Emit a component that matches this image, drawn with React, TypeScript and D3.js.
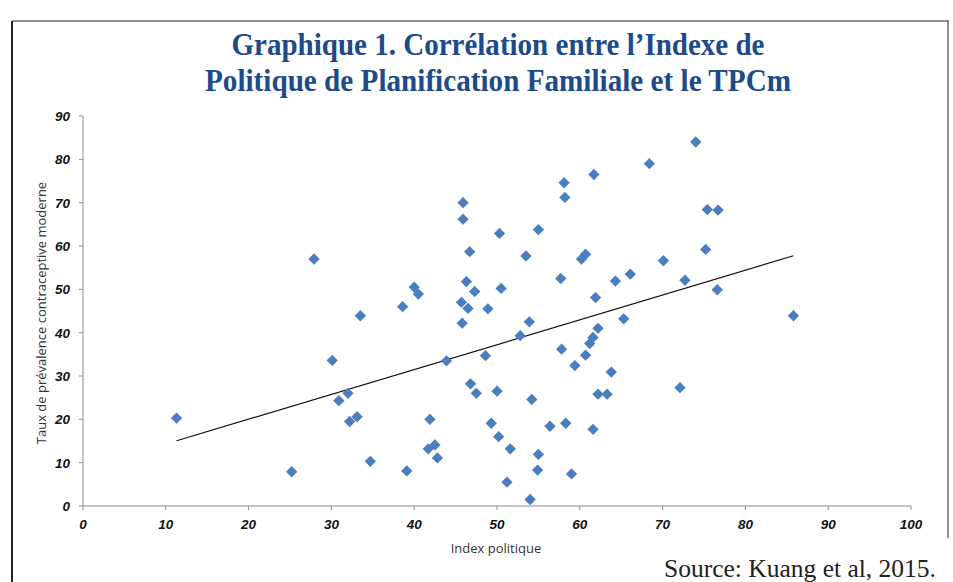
import React from 'react';
import * as d3 from 'd3';

// Index politique (x) et TPCm (y)
const indexValues = [
  11.3, 25.2, 27.9, 30.1, 30.9, 32.0, 32.2, 33.1, 33.5, 34.7,
  38.6, 39.1, 40.0, 40.5, 41.7, 41.9, 42.5, 42.8, 43.9, 45.7,
  45.8, 45.9, 45.9, 46.3, 46.5, 46.7, 46.8, 47.3, 47.5, 48.6,
  48.9, 49.3, 50.0, 50.2, 50.3, 50.5, 51.2, 51.6, 52.8, 53.5,
  53.9, 54.0, 54.2, 54.9, 55.0, 55.0, 56.4, 57.7, 57.8, 58.1,
  58.2, 58.3, 59.0, 59.4, 60.2, 60.7, 60.7, 61.2, 61.6, 61.6,
  61.7, 61.9, 62.2, 62.2, 63.3, 63.8, 64.3, 65.3, 66.1, 68.4,
  70.1, 72.1, 72.7, 74.0, 75.2, 75.4, 76.6, 76.7, 85.8
];
const tpcmValues = [
  20.3, 7.9, 57.0, 33.6, 24.3, 26.0, 19.5, 20.6, 43.9, 10.3,
  46.0, 8.1, 50.5, 48.9, 13.2, 20.0, 14.1, 11.1, 33.5, 47.0,
  42.2, 70.0, 66.2, 51.8, 45.6, 58.7, 28.2, 49.5, 26.0, 34.7,
  45.5, 19.1, 26.5, 16.0, 62.9, 50.2, 5.5, 13.2, 39.3, 57.7,
  42.5, 1.5, 24.6, 8.3, 11.9, 63.8, 18.4, 52.5, 36.2, 74.6,
  71.2, 19.1, 7.4, 32.4, 57.0, 58.1, 34.8, 37.5, 38.9, 17.7,
  76.5, 48.1, 41.0, 25.8, 25.8, 30.9, 51.9, 43.2, 53.5, 79.0,
  56.6, 27.3, 52.1, 84.0, 59.2, 68.4, 49.9, 68.3, 43.9
];
const xTicks = [0, 10, 20, 30, 40, 50, 60, 70, 80, 90, 100];
const yTicks = [0, 10, 20, 30, 40, 50, 60, 70, 80, 90];

// droite de tendance linéaire
const trendSlope = 0.573;
const trendIntercept = 8.58;

const titleLines = [
  'Graphique 1. Corrélation entre l\u2019Indexe de',
  'Politique de Planification Familiale et le TPCm'
];

const W = 953;
const H = 582;

export default function App() {
  const x = d3.scaleLinear().domain([0, 100]).range([83, 911]);
  const y = d3.scaleLinear().domain([0, 90]).range([506, 116]);

  const points = indexValues.map((v, i) => ({ x: v, y: tpcmValues[i] }));
  const [xMin, xMax] = d3.extent(indexValues) as [number, number];
  const trend = d3.line<number>()
    .x(d => x(d))
    .y(d => y(trendIntercept + trendSlope * d));

  const marker = d3.symbol().type(d3.symbolSquare).size(64)();
  const axisColor = '#8c8c8c';
  const tickFont = '"Liberation Sans", Arial, sans-serif';

  return (
    <svg
      width={W}
      height={H}
      style={{ position: 'absolute', left: 0, top: 0, background: '#fff' }}
    >
      {/* cadre */}
      <line x1={12} y1={21} x2={949} y2={21} stroke="#6b6b6b" strokeWidth={1.5} />
      <line x1={12} y1={21} x2={12} y2={582} stroke="#222" strokeWidth={2} />
      <line x1={948} y1={21} x2={948} y2={538} stroke="#6b6b6b" strokeWidth={1.5} />

      {/* titre */}
      {titleLines.map((t, i) => (
        <text
          key={i}
          x={498}
          y={55 + i * 36}
          textAnchor="middle"
          fill="#1d4a8a"
          fontFamily='"Liberation Serif", "DejaVu Serif", serif'
          fontWeight="bold"
          fontSize={31}
          textLength={i === 0 ? 533 : 586}
          lengthAdjust="spacingAndGlyphs"
        >
          {t}
        </text>
      ))}

      {/* axes */}
      <line x1={x(0)} y1={y(0)} x2={x(100)} y2={y(0)} stroke={axisColor} />
      <line x1={x(0)} y1={y(0)} x2={x(0)} y2={y(90)} stroke={axisColor} />
      {xTicks.map(t => (
        <g key={'x' + t}>
          <line x1={x(t)} x2={x(t)} y1={y(0)} y2={y(0) + 4} stroke={axisColor} />
          <text
            x={x(t)}
            y={y(0) + 23}
            textAnchor="middle"
            fontFamily={tickFont}
            fontWeight="bold"
            fontStyle="italic"
            fontSize={13.5}
            fill="#111"
          >
            {t}
          </text>
        </g>
      ))}
      {yTicks.map(t => (
        <g key={'y' + t}>
          <line x1={x(0) - 4} x2={x(0)} y1={y(t)} y2={y(t)} stroke={axisColor} />
          <text
            x={x(0) - 13}
            y={y(t) + 5}
            textAnchor="end"
            fontFamily={tickFont}
            fontWeight="bold"
            fontStyle="italic"
            fontSize={13.5}
            fill="#111"
          >
            {t}
          </text>
        </g>
      ))}

      {/* titres des axes */}
      <text
        transform={`translate(46, ${(y(0) + y(90)) / 2 + 2}) rotate(-90)`}
        textAnchor="middle"
        fontFamily='"Open Sans", "Noto Sans", sans-serif'
        fontSize={13}
        fill="#333"
      >
        Taux de prévalence contraceptive moderne
      </text>
      <text
        x={496}
        y={553}
        textAnchor="middle"
        fontFamily='"Open Sans", "Noto Sans", sans-serif'
        fontSize={13}
        fill="#333"
      >
        Index politique
      </text>

      {/* tendance */}
      <path d={trend([xMin, xMax]) || ''} fill="none" stroke="#111" strokeWidth={1.2} />

      {/* points */}
      {points.map((p, i) => (
        <path
          key={i}
          d={marker || ''}
          transform={`translate(${x(p.x)}, ${y(p.y)}) rotate(45)`}
          fill="#4a7ebf"
        />
      ))}

      {/* source */}
      <text
        x={936}
        y={577}
        textAnchor="end"
        fontFamily='"Liberation Serif", "DejaVu Serif", serif'
        fontSize={25.5}
        fill="#222"
      >
        Source: Kuang et al, 2015.
      </text>
    </svg>
  );
}
